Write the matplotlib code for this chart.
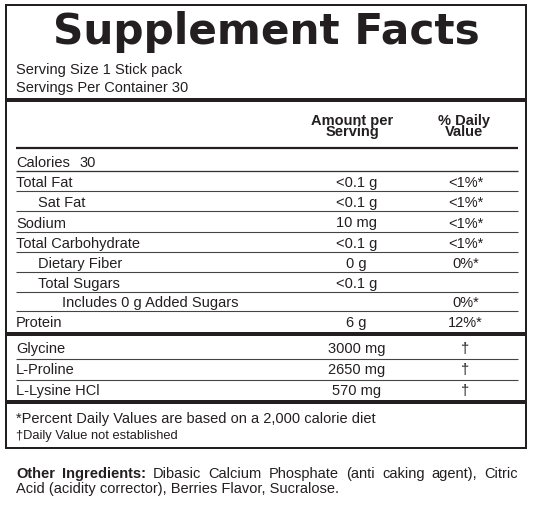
import matplotlib
matplotlib.use('Agg')
import matplotlib.pyplot as plt

# ---------------- data ----------------
title = "Supplement Facts"
serving_lines = ["Serving Size 1 Stick pack", "Servings Per Container 30"]
amount_header = ["Amount per", "Serving"]
dv_header = ["% Daily", "Value"]
calories_label = "Calories"
calories_value = "30"
nutrients = ["Total Fat", "Sat Fat", "Sodium", "Total Carbohydrate",
             "Dietary Fiber", "Total Sugars", "Includes 0 g Added Sugars", "Protein"]
nutrient_indent = [0, 1, 0, 0, 1, 1, 2, 0]
nutrient_amounts = ["<0.1 g", "<0.1 g", "10 mg", "<0.1 g", "0 g", "<0.1 g", "", "6 g"]
nutrient_dv = ["<1%*", "<1%*", "<1%*", "<1%*", "0%*", "", "0%*", "12%*"]
others = ["Glycine", "L-Proline", "L-Lysine HCl"]
other_amounts = ["3000 mg", "2650 mg", "570 mg"]
other_dv = ["\u2020", "\u2020", "\u2020"]
footnotes = ["*Percent Daily Values are based on a 2,000 calorie diet",
             "\u2020Daily Value not established"]
ingredients_label = "Other Ingredients:"
ingredients_lines = ["Dibasic Calcium Phosphate (anti caking agent), Citric",
                     "Acid (acidity corrector), Berries Flavor, Sucralose."]

# ---------------- layout ----------------
W, H = 534, 506
DPI = 100
PX = 72.0 / DPI  # points per pixel
INK = '#231f20'
BODY = 'Liberation Sans'

fig = plt.figure(figsize=(W / DPI, H / DPI), dpi=DPI)
ax = fig.add_axes([0, 0, 1, 1])
ax.set_xlim(0, W)
ax.set_ylim(H, 0)
ax.axis('off')

BOX_L, BOX_R, BOX_T, BOX_B = 6.3, 526.3, 6.3, 449.3
IN_L, IN_R = 16, 518
COL_AMT = 356.5
COL_DV = 465.5

def hline(y, x0, x1, px, color=INK):
    ax.plot([x0, x1], [y, y], color=color, lw=px * PX, solid_capstyle='butt')

def txt(x, y, s, size_px, ha='left', weight='normal', family=BODY, color=INK, **kw):
    return ax.text(x, y, s, fontsize=size_px * PX, ha=ha, va='baseline',
                   fontweight=weight, family=family, color=color, **kw)

# outer box
ax.plot([BOX_L, BOX_R, BOX_R, BOX_L, BOX_L],
        [BOX_T, BOX_T, BOX_B, BOX_B, BOX_T], color=INK, lw=2 * PX,
        solid_joinstyle='miter')

# title
fig.canvas.draw()
renderer = fig.canvas.get_renderer()
t = txt(266, 44, title, 42, ha='center', weight='bold', family='DejaVu Sans')
bb = t.get_window_extent(renderer)
t.set_fontsize(42 * PX * 427.0 / bb.width)

# serving info
txt(IN_L, 74, serving_lines[0], 14.6)
txt(IN_L, 91.5, serving_lines[1], 14.6)

# thick bars
hline(101, BOX_L, BOX_R, 4)
hline(335, BOX_L, BOX_R, 4)
hline(402.5, BOX_L, BOX_R, 4)

# column headers (two tightly spaced lines, one text each)
txt(352, 136, "\n".join(amount_header), 14.6, ha='center', weight='bold',
    multialignment='center', linespacing=0.72)
txt(464, 136, "\n".join(dv_header), 14.6, ha='center', weight='bold',
    multialignment='center', linespacing=0.72)
hline(149, IN_L, IN_R, 2.2)

# calories
txt(IN_L, 166.5, calories_label, 14.6)
txt(79, 166.5, calories_value, 14.6)
hline(171.8, IN_L, IN_R, 1.3, color='#333333')

# nutrient rows
row_lines = [192, 212, 232.7, 253, 273, 292.5, 312]
row_base = [187, 207.3, 227.5, 248, 268, 287.8, 307.3, 327]
indent_x = [IN_L, 37.5, 62.5]
for i, name in enumerate(nutrients):
    y = row_base[i]
    txt(indent_x[nutrient_indent[i]], y, name, 14.6)
    if nutrient_amounts[i]:
        txt(COL_AMT, y, nutrient_amounts[i], 14.6, ha='center')
    if nutrient_dv[i]:
        txt(COL_DV, y, nutrient_dv[i], 14.6, ha='center')
for y in row_lines:
    hline(y, IN_L, IN_R, 1.1, color='#444444')

# other ingredients rows
o_base = [353.5, 374.3, 395]
for i, name in enumerate(others):
    txt(IN_L, o_base[i], name, 14.6)
    txt(COL_AMT, o_base[i], other_amounts[i], 14.6, ha='center')
    txt(465, o_base[i], other_dv[i], 14.6, ha='center')
for y in [359.5, 380.5]:
    hline(y, IN_L, IN_R, 1.1, color='#444444')

# footnotes
txt(IN_L, 422.7, footnotes[0], 14.6)
txt(IN_L, 438.8, footnotes[1], 12.9)

# other ingredients paragraph (justified first line)
words = [(w, 'bold') for w in ingredients_label.split()] + \
        [(w, 'normal') for w in ingredients_lines[0].split()]
objs = []
for w, wt in words:
    objs.append(txt(0, 478.3, w, 14.6, weight=wt))
widths = []
for o in objs:
    b = o.get_window_extent(renderer)
    x0d, _ = ax.transData.inverted().transform((b.x0, 0))
    x1d, _ = ax.transData.inverted().transform((b.x1, 0))
    widths.append(x1d - x0d)
gap = (IN_R - IN_L - sum(widths)) / (len(widths) - 1)
x = IN_L
for o, w in zip(objs, widths):
    o.set_x(x)
    x += w + gap
txt(IN_L, 493.5, ingredients_lines[1], 14.6)

fig.savefig('out.png', dpi=DPI, facecolor='white')
